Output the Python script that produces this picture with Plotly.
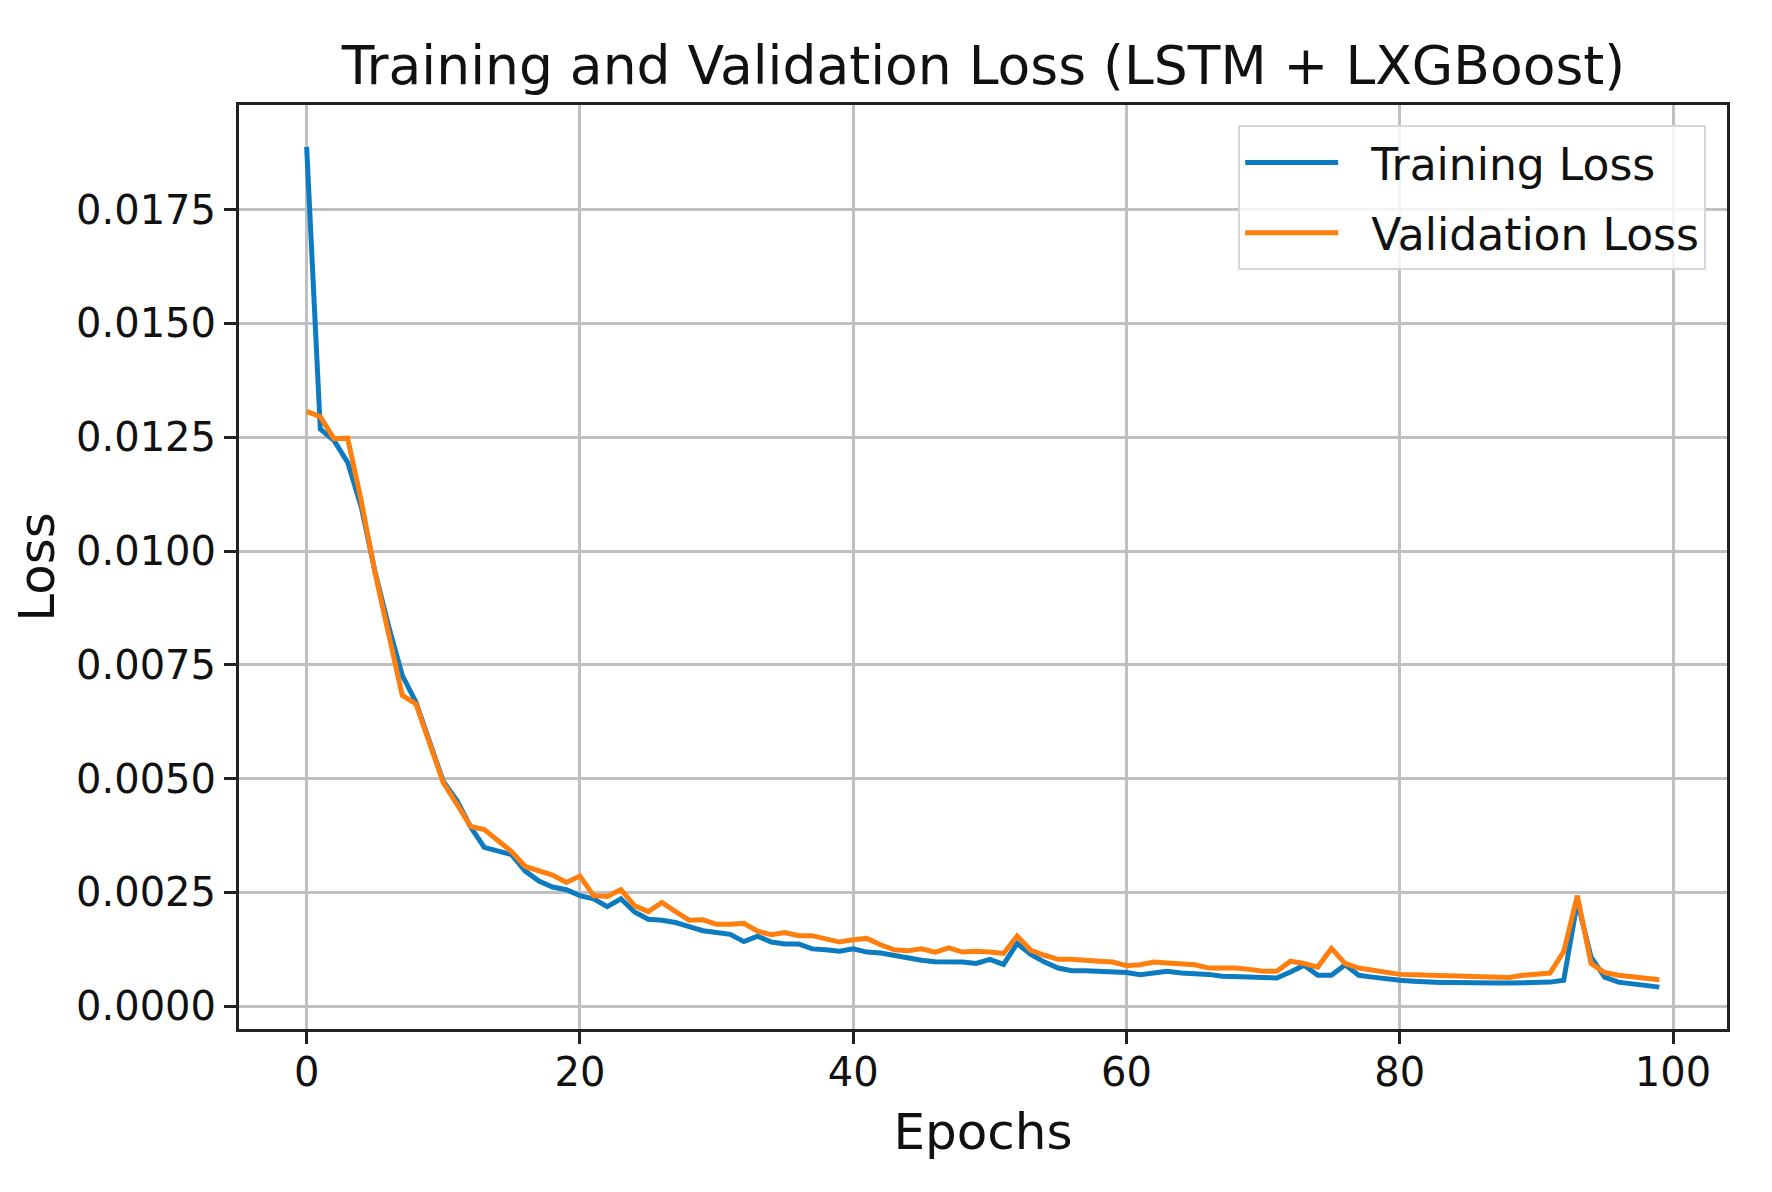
import plotly.graph_objects as go

epochs = list(range(100))

training_loss = [
    0.01888, 0.01268, 0.01243, 0.01195, 0.01097, 0.00955, 0.00835, 0.00727, 0.00668, 0.00578,
    0.00494, 0.00452, 0.00394, 0.00349, 0.00342, 0.00333, 0.00297, 0.00275, 0.00262, 0.00256,
    0.00243, 0.00236, 0.00219, 0.00236, 0.00207, 0.00191, 0.00189, 0.00184, 0.00175, 0.00166,
    0.00162, 0.00158, 0.00142, 0.00154, 0.00141, 0.00137, 0.00137, 0.00126, 0.00124, 0.00121,
    0.00126, 0.00119, 0.00117, 0.00112, 0.00105, 0.00101, 0.00098, 0.00098, 0.00097, 0.00094,
    0.00103, 0.00092, 0.00138, 0.00114, 0.00097, 0.00084, 0.00078, 0.00078, 0.00077, 0.00077,
    0.00074, 0.00069, 0.00072, 0.00077, 0.00073, 0.00072, 0.00070, 0.00066, 0.00064, 0.00064,
    0.00063, 0.00062, 0.00075, 0.00090, 0.00068, 0.00068, 0.00091, 0.00068, 0.00064, 0.00060,
    0.00057, 0.00055, 0.00053, 0.00052, 0.00052, 0.00051, 0.00051, 0.00051, 0.00051, 0.00052,
    0.00053, 0.00053, 0.00057, 0.00230, 0.00108, 0.00064, 0.00053, 0.00049, 0.00046, 0.00042,
]

validation_loss = [
    0.01307, 0.01295, 0.01247, 0.01248, 0.01110, 0.00953, 0.00818, 0.00683, 0.00664, 0.00576,
    0.00491, 0.00444, 0.00395, 0.00388, 0.00365, 0.00340, 0.00307, 0.00297, 0.00288, 0.00272,
    0.00286, 0.00243, 0.00241, 0.00256, 0.00221, 0.00208, 0.00228, 0.00208, 0.00189, 0.00190,
    0.00180, 0.00180, 0.00182, 0.00165, 0.00157, 0.00162, 0.00155, 0.00155, 0.00148, 0.00141,
    0.00146, 0.00149, 0.00135, 0.00124, 0.00122, 0.00126, 0.00119, 0.00128, 0.00119, 0.00121,
    0.00119, 0.00116, 0.00154, 0.00123, 0.00112, 0.00103, 0.00103, 0.00100, 0.00099, 0.00097,
    0.00089, 0.00091, 0.00097, 0.00095, 0.00092, 0.00091, 0.00084, 0.00084, 0.00084, 0.00081,
    0.00077, 0.00077, 0.00099, 0.00094, 0.00086, 0.00127, 0.00094, 0.00084, 0.00079, 0.00073,
    0.00070, 0.00069, 0.00068, 0.00067, 0.00067, 0.00066, 0.00065, 0.00064, 0.00063, 0.00068,
    0.00071, 0.00073, 0.00120, 0.00243, 0.00094, 0.00074, 0.00068, 0.00064, 0.00060, 0.00058,
]

x_ticks = [0, 20, 40, 60, 80, 100]
y_ticks = [0.0, 0.0025, 0.0050, 0.0075, 0.0100, 0.0125, 0.0150, 0.0175]

title_text = "Training and Validation Loss (LSTM + LXGBoost)"
x_label = "Epochs"
y_label = "Loss"
series_names = ["Training Loss", "Validation Loss"]

FONT = "DejaVu Sans"
BLUE = "#0c7bc0"
ORANGE = "#ff7f0e"
GAP = "\u00a0\u00a0"

fig = go.Figure()
fig.add_trace(go.Scatter(x=epochs, y=training_loss, mode="lines", name=GAP + series_names[0],
                         legendgroup="train",
                         line=dict(color=BLUE, width=5)))
fig.add_trace(go.Scatter(x=epochs, y=validation_loss, mode="lines", name=GAP + series_names[1],
                         legendgroup="val",
                         line=dict(color=ORANGE, width=5)))

ymin = -0.0005
ymax = 0.0198

axis_common = dict(
    showline=True, linecolor="#222222", linewidth=3, mirror=True,
    showgrid=True, gridcolor="#c0c0c0", gridwidth=2.5,
    ticks="outside", ticklen=12, tickwidth=3, tickcolor="#222222",
    zeroline=False,
    tickfont=dict(family=FONT, size=40, color="#111111"),
)

fig.update_layout(
    width=1772, height=1192,
    margin=dict(l=231, r=53, t=97, b=171, pad=0),
    paper_bgcolor="white", plot_bgcolor="white",
    font=dict(family=FONT, color="#111111"),
    title=dict(text=title_text, x=0.5505, xanchor="center", xref="container",
               y=1 - 57 / 1192, yanchor="middle", yref="container",
               font=dict(family=FONT, size=53.5, color="#111111")),
    xaxis=dict(range=[-4.95, 103.95], tickvals=x_ticks, ticklabelstandoff=-6,
               title=dict(text=x_label, font=dict(family=FONT, size=50), standoff=20),
               **axis_common),
    yaxis=dict(range=[ymin, ymax], tickvals=y_ticks, tickformat=".4f",
               title=dict(text=y_label, font=dict(family=FONT, size=50), standoff=16),
               **axis_common),
    legend=dict(x=0.986, y=0.978, xanchor="right", yanchor="top",
                bgcolor="rgba(255,255,255,0.8)", bordercolor="#d6d6d6", borderwidth=2,
                font=dict(family=FONT, size=44, color="#111111"),
                itemwidth=93, tracegroupgap=10),
    showlegend=True,
)

fig.write_html("out.html")
